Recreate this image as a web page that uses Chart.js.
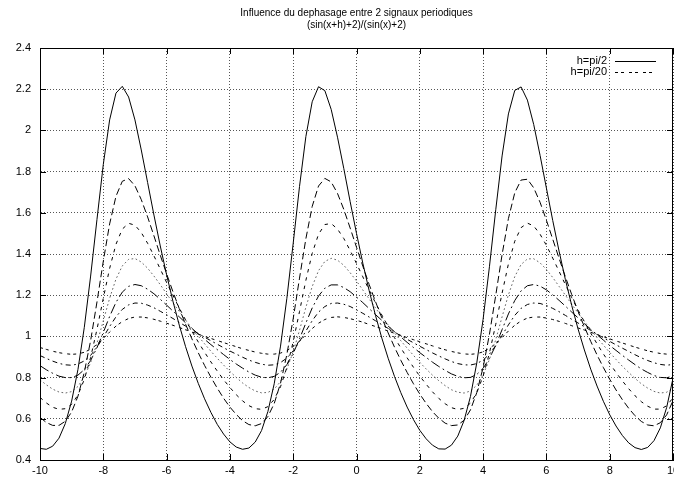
<!DOCTYPE html>
<html><head><meta charset="utf-8">
<script src="https://cdn.jsdelivr.net/npm/chart.js@4"></script>
<style>html,body{margin:0;padding:0;background:#fff}#wrap{width:674px;height:479px}</style>
</head><body><div id="wrap"><canvas id="c" width="674" height="479"></canvas></div>
<script>
const titleLines = ['Influence du dephasage entre 2 signaux periodiques', '(sin(x+h)+2)/(sin(x)+2)'];
const xValues = [
-10,-9.8,-9.6,-9.4,-9.2,-9,-8.8,-8.6,-8.4,-8.2,
-8,-7.8,-7.6,-7.4,-7.2,-7,-6.8,-6.6,-6.4,-6.2,
-6,-5.8,-5.6,-5.4,-5.2,-5,-4.8,-4.6,-4.4,-4.2,
-4,-3.8,-3.6,-3.4,-3.2,-3,-2.8,-2.6,-2.4,-2.2,
-2,-1.8,-1.6,-1.4,-1.2,-1,-0.8,-0.6,-0.4,-0.2,
0,0.2,0.4,0.6,0.8,1,1.2,1.4,1.6,1.8,
2,2.2,2.4,2.6,2.8,3,3.2,3.4,3.6,3.8,
4,4.2,4.4,4.6,4.8,5,5.2,5.4,5.6,5.8,
6,6.2,6.4,6.6,6.8,7,7.2,7.4,7.6,7.8,
8,8.2,8.4,8.6,8.8,9,9.2,9.4,9.6,9.8,
10];
const xTickLabels = ['-10','-8','-6','-4','-2','0','2','4','6','8','10'];
const yTickLabels = ['0.4','0.6','0.8','1','1.2','1.4','1.6','1.8','2','2.2','2.4'];
const seriesLabels = ['h=pi/2','','','','','','h=pi/20'];

const curveH1 = [
0.456,0.452,0.467,0.506,0.577,0.686,0.840,1.044,1.293,1.568,
1.835,2.051,2.181,2.214,2.162,2.051,1.905,1.747,1.589,1.439,
1.299,1.171,1.055,0.950,0.856,0.772,0.697,0.631,0.573,0.526,
0.488,0.463,0.452,0.458,0.487,0.543,0.635,0.770,0.953,1.185,
1.452,1.728,1.970,2.139,2.212,2.193,2.102,1.967,1.814,1.654,
1.500,1.355,1.222,1.102,0.992,0.894,0.806,0.727,0.657,0.596,
0.544,0.503,0.472,0.454,0.453,0.472,0.516,0.592,0.708,0.871,
1.083,1.338,1.615,1.876,2.080,2.194,2.211,2.147,2.028,1.879,
1.720,1.563,1.414,1.276,1.150,1.036,0.934,0.841,0.759,0.685,
0.620,0.565,0.519,0.483,0.460,0.451,0.461,0.494,0.556,0.655,
0.797];
const curveH2 = [
0.607,0.582,0.568,0.568,0.588,0.633,0.710,0.826,0.980,1.167,
1.365,1.546,1.680,1.753,1.766,1.731,1.664,1.580,1.488,1.394,
1.304,1.217,1.135,1.059,0.988,0.921,0.859,0.802,0.749,0.700,
0.657,0.621,0.591,0.572,0.566,0.577,0.611,0.674,0.773,0.912,
1.086,1.283,1.474,1.631,1.730,1.767,1.750,1.694,1.616,1.526,
1.433,1.341,1.252,1.169,1.090,1.017,0.948,0.884,0.825,0.770,
0.720,0.675,0.635,0.603,0.579,0.567,0.570,0.593,0.643,0.727,
0.849,1.010,1.200,1.397,1.572,1.697,1.759,1.763,1.721,1.651,
1.564,1.472,1.379,1.289,1.203,1.122,1.047,0.976,0.910,0.849,
0.792,0.740,0.693,0.651,0.615,0.587,0.570,0.566,0.581,0.619,
0.688];
const curveH3 = [
0.704,0.677,0.656,0.646,0.649,0.670,0.716,0.791,0.898,1.034,
1.185,1.330,1.447,1.521,1.549,1.540,1.504,1.452,1.391,1.327,
1.262,1.199,1.138,1.080,1.025,0.973,0.923,0.876,0.832,0.790,
0.752,0.717,0.687,0.664,0.649,0.646,0.659,0.694,0.756,0.849,
0.974,1.121,1.272,1.403,1.496,1.543,1.548,1.521,1.475,1.417,
1.354,1.289,1.225,1.163,1.104,1.048,0.994,0.944,0.896,0.850,
0.807,0.768,0.731,0.699,0.673,0.654,0.645,0.651,0.676,0.726,
0.807,0.919,1.059,1.210,1.352,1.462,1.528,1.550,1.536,1.496,
1.442,1.380,1.316,1.251,1.188,1.128,1.071,1.016,0.964,0.915,
0.869,0.825,0.784,0.746,0.712,0.683,0.661,0.647,0.647,0.663,
0.702];
const curveH4 = [
0.789,0.765,0.744,0.730,0.725,0.732,0.757,0.803,0.873,0.967,
1.076,1.185,1.278,1.342,1.374,1.378,1.361,1.331,1.293,1.251,
1.207,1.163,1.121,1.079,1.039,1.001,0.964,0.928,0.894,0.861,
0.830,0.801,0.774,0.752,0.735,0.726,0.728,0.744,0.781,0.841,
0.926,1.030,1.141,1.242,1.319,1.364,1.379,1.370,1.345,1.309,
1.269,1.225,1.182,1.138,1.096,1.056,1.017,0.979,0.943,0.908,
0.874,0.842,0.812,0.785,0.761,0.741,0.729,0.725,0.735,0.763,
0.813,0.888,0.985,1.095,1.202,1.290,1.349,1.376,1.377,1.357,
1.325,1.286,1.243,1.200,1.156,1.114,1.073,1.033,0.994,0.958,
0.922,0.888,0.855,0.825,0.796,0.770,0.749,0.733,0.725,0.729,
0.749];
const curveH5 = [
0.858,0.838,0.821,0.807,0.800,0.800,0.812,0.839,0.883,0.945,
1.019,1.097,1.165,1.215,1.243,1.252,1.246,1.229,1.207,1.180,
1.152,1.123,1.095,1.066,1.039,1.012,0.986,0.960,0.936,0.912,
0.888,0.866,0.846,0.827,0.812,0.802,0.799,0.806,0.826,0.863,
0.917,0.988,1.065,1.138,1.196,1.234,1.250,1.250,1.237,1.217,
1.191,1.164,1.135,1.106,1.078,1.050,1.023,0.997,0.971,0.946,
0.921,0.898,0.875,0.854,0.835,0.818,0.806,0.799,0.801,0.815,
0.845,0.893,0.957,1.033,1.109,1.174,1.221,1.246,1.252,1.244,
1.226,1.202,1.175,1.147,1.118,1.090,1.062,1.034,1.008,0.982,
0.956,0.932,0.908,0.885,0.863,0.842,0.825,0.810,0.801,0.799,
0.808];
const curveH6 = [
0.907,0.893,0.880,0.869,0.862,0.860,0.866,0.881,0.908,0.947,
0.996,1.048,1.095,1.131,1.153,1.162,1.161,1.152,1.139,1.122,
1.105,1.087,1.068,1.050,1.032,1.014,0.996,0.979,0.962,0.945,
0.929,0.914,0.899,0.885,0.874,0.865,0.860,0.862,0.873,0.895,
0.930,0.975,1.026,1.076,1.118,1.145,1.160,1.162,1.156,1.145,
1.129,1.112,1.094,1.076,1.057,1.039,1.021,1.003,0.986,0.969,
0.952,0.936,0.920,0.905,0.891,0.878,0.868,0.862,0.861,0.868,
0.885,0.914,0.955,1.005,1.056,1.102,1.136,1.155,1.162,1.160,
1.150,1.136,1.120,1.102,1.083,1.065,1.047,1.029,1.011,0.993,
0.976,0.959,0.943,0.927,0.911,0.896,0.883,0.872,0.864,0.860,
0.864];
const curveH7 = [
0.946,0.937,0.928,0.921,0.916,0.913,0.915,0.923,0.938,0.961,
0.990,1.021,1.050,1.072,1.087,1.094,1.094,1.090,1.083,1.074,
1.064,1.054,1.043,1.032,1.022,1.011,1.000,0.990,0.980,0.970,
0.960,0.950,0.940,0.932,0.924,0.918,0.914,0.914,0.919,0.931,
0.951,0.977,1.008,1.038,1.064,1.082,1.092,1.095,1.092,1.086,
1.078,1.069,1.058,1.048,1.037,1.026,1.015,1.005,0.994,0.984,
0.974,0.964,0.954,0.944,0.935,0.927,0.920,0.915,0.913,0.916,
0.925,0.942,0.965,0.995,1.026,1.054,1.075,1.089,1.094,1.094,
1.089,1.082,1.073,1.063,1.052,1.041,1.031,1.020,1.009,0.999,
0.988,0.978,0.968,0.958,0.948,0.939,0.930,0.923,0.917,0.914,
0.914];

const allCurves = [curveH1, curveH2, curveH3, curveH4, curveH5, curveH6, curveH7];
const lineStyles = [
  {color:'#000', dash:[]},
  {color:'#000', dash:[7,3.5]},
  {color:'#000', dash:[3.5,5]},
  {color:'#666', dash:[1.7,2.5]},
  {color:'#000', dash:[10,3.5,1.7,3.5]},
  {color:'#000', dash:[5,3.5,1.7,3.5]},
  {color:'#000', dash:[3,3,3,5]}
];
const FONT = 'Liberation Sans, Arial, Helvetica, sans-serif';

const datasets = allCurves.map((arr, i) => ({
  label: seriesLabels[i],
  data: arr.map((y, k) => ({x: xValues[k], y: y})),
  borderColor: lineStyles[i].color,
  borderDash: lineStyles[i].dash,
  borderWidth: 1,
  pointRadius: 0,
  fill: false,
  tension: 0,
  order: i
}));

const framePlugin = {
  id: 'frame',
  afterDraw(chart) {
    const ctx = chart.ctx, a = chart.chartArea;
    const xs = chart.scales.x, ys = chart.scales.y;
    ctx.save();
    ctx.strokeStyle = '#000';
    ctx.lineWidth = 1;
    ctx.setLineDash([]);
    ctx.strokeRect(Math.round(a.left) + 0.5, Math.round(a.top) + 0.5, Math.round(a.right - a.left) - 1, Math.round(a.bottom - a.top));
    ctx.beginPath();
    xs.ticks.forEach(t => {
      const px = Math.round(xs.getPixelForValue(t.value)) + 0.5;
      ctx.moveTo(px, a.bottom); ctx.lineTo(px, a.bottom - 6);
      ctx.moveTo(px, a.top); ctx.lineTo(px, a.top + 6);
    });
    ys.ticks.forEach(t => {
      const py = Math.round(ys.getPixelForValue(t.value)) + 0.5;
      ctx.moveTo(a.left, py); ctx.lineTo(a.left + 6, py);
      ctx.moveTo(a.right, py); ctx.lineTo(a.right - 6, py);
    });
    ctx.stroke();
    ctx.fillStyle = '#000';
    ctx.font = '10px ' + FONT;
    ctx.textAlign = 'center';
    ctx.textBaseline = 'middle';
    const cx = (a.left + a.right) / 2;
    ctx.fillText(titleLines[0], cx, 13);
    ctx.fillText(titleLines[1], cx, 25);
    let ly = 61;
    chart.data.datasets.forEach(ds => {
      if (!ds.label) return;
      ctx.font = '11px ' + FONT;
      ctx.textAlign = 'right';
      ctx.fillStyle = '#000';
      ctx.fillText(ds.label, 607, ly);
      ctx.beginPath();
      ctx.strokeStyle = ds.borderColor;
      ctx.setLineDash(ds.borderDash);
      ctx.moveTo(615, ly + 0.5); ctx.lineTo(656, ly + 0.5);
      ctx.stroke();
      ly += 11;
    });
    ctx.restore();
  }
};

new Chart(document.getElementById('c'), {
  type: 'line',
  data: { datasets },
  options: {
    responsive: false,
    animation: false,
    devicePixelRatio: 1,
    layout: { padding: { top: 48, right: 1, left: 0, bottom: 0 } },
    plugins: { legend: { display: false }, title: { display: false }, tooltip: { enabled: false } },
    scales: {
      x: {
        type: 'linear', min: -10, max: 10,
        ticks: { stepSize: 2, color: '#000', padding: 4, maxRotation: 0, autoSkip: false,
          font: { family: FONT, size: 11 },
          callback: (v, i) => xTickLabels[i] },
        grid: { color: '#555', lineWidth: 1, drawTicks: false },
        border: { display: true, color: '#000', dash: [1, 2] },
        afterFit: (s) => { s.height = 19; s.paddingLeft = 0; s.paddingRight = 0; }
      },
      y: {
        type: 'linear', min: 0.4, max: 2.4,
        ticks: { stepSize: 0.2, color: '#000', padding: 9, autoSkip: false,
          font: { family: FONT, size: 11 },
          callback: (v, i) => yTickLabels[i] },
        grid: { color: '#555', lineWidth: 1, drawTicks: false },
        border: { display: true, color: '#000', dash: [1, 2] },
        afterFit: (s) => { s.width = 40; s.paddingTop = 0; s.paddingBottom = 0; }
      }
    }
  },
  plugins: [framePlugin]
});
</script>
</body></html>
